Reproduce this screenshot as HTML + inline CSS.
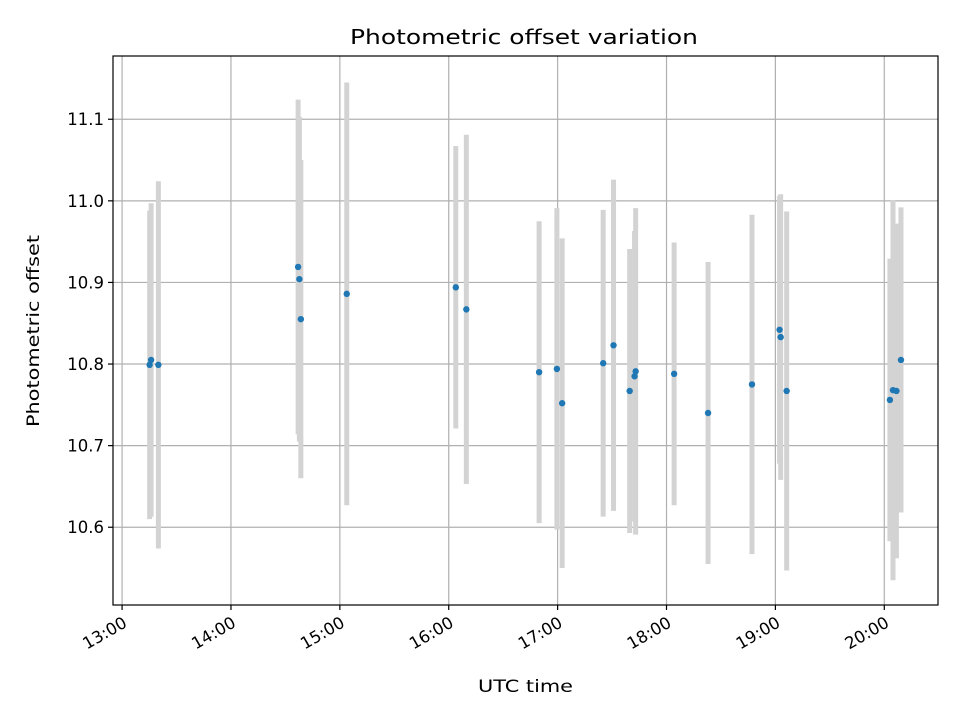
<!DOCTYPE html>
<html><head><meta charset="utf-8"><style>
body{margin:0;background:#fff;}
svg text{font-family:"DejaVu Sans","Liberation Sans",sans-serif;fill:#000;}
</style></head><body>
<svg id="chart" width="960" height="720" viewBox="0 0 960 720" xmlns="http://www.w3.org/2000/svg">
<rect width="960" height="720" fill="#fff"/>
<g id="grid"></g>
<g id="bars"></g>
<g id="pts"></g>
<rect x="113" y="56" width="825" height="549" fill="none" stroke="#000" stroke-width="1.2"/>
<g id="ticks"></g>
<text x="350" y="44" font-size="20" textLength="348" lengthAdjust="spacingAndGlyphs">Photometric offset variation</text>
<text x="478" y="692" font-size="17" textLength="95" lengthAdjust="spacingAndGlyphs">UTC time</text>
<text transform="translate(39,427) rotate(-90)" font-size="17" textLength="192" lengthAdjust="spacingAndGlyphs">Photometric offset</text>
</svg>
<script>
// minutes after 13:00
const times = [15.2,16.0,20.0,97.0,97.7,98.5,123.8,183.9,189.7,229.8,239.6,242.5,265.1,270.8,279.7,282.4,283.0,304.2,322.9,347.1,362.3,362.9,366.2,423.1,424.8,426.7,429.2];
const values = [10.799,10.805,10.799,10.919,10.904,10.855,10.886,10.894,10.867,10.790,10.794,10.752,10.801,10.823,10.767,10.785,10.791,10.788,10.740,10.775,10.842,10.833,10.767,10.756,10.768,10.767,10.805];
const errors = [0.189,0.192,0.225,0.205,0.199,0.195,0.259,0.173,0.214,0.185,0.197,0.202,0.188,0.203,0.174,0.178,0.200,0.161,0.185,0.208,0.164,0.175,0.220,0.173,0.233,0.205,0.187];
const xTicks = [0,60,120,180,240,300,360,420];
const xTickLabels = ["13:00","14:00","15:00","16:00","17:00","18:00","19:00","20:00"];
const yTicks = [10.6,10.7,10.8,10.9,11.0,11.1];
const yTickLabels = ["10.6","10.7","10.8","10.9","11.0","11.1"];

const L=113,R=938,T=56,B=605, xMin=-5, xMax=449.6, yMin=10.5047, yMax=11.1775;
const sx=v=>L+(v-xMin)/(xMax-xMin)*(R-L);
const sy=v=>B-(v-yMin)/(yMax-yMin)*(B-T);
const NS="http://www.w3.org/2000/svg";
function mk(tag,attrs,parent,txt){const e=document.createElementNS(NS,tag);for(const k in attrs)e.setAttribute(k,attrs[k]);if(txt!==undefined)e.textContent=txt;parent.appendChild(e);return e;}
const grid=document.getElementById('grid'),ticks=document.getElementById('ticks'),bars=document.getElementById('bars'),pts=document.getElementById('pts');
xTicks.forEach((t,i)=>{const x=sx(t);
 const g=mk('line',{x1:x,x2:x,y1:T,y2:B,stroke:'#b0b0b0','stroke-width':1.2},grid);
 
 
 mk('line',{x1:x,x2:x,y1:B,y2:B+5,stroke:'#000','stroke-width':1.2},ticks);
 const tx=mk('text',{x:x+2,y:B+22,'text-anchor':'end','font-size':16.5,transform:`rotate(-30 ${x+2} ${B+14})`},ticks,xTickLabels[i]);
 
 
});
yTicks.forEach((t,i)=>{const y=sy(t);
 const g=mk('line',{x1:L,x2:R,y1:y,y2:y,stroke:'#b0b0b0','stroke-width':1.2},grid);
 
 
 mk('line',{x1:L-5,x2:L,y1:y,y2:y,stroke:'#000','stroke-width':1.2},ticks);
 const tx=mk('text',{x:L-9,y:y+6,'text-anchor':'end','font-size':16.5},ticks,yTickLabels[i]);
 
 
});
times.forEach((t,i)=>{const x=sx(t);
 const b=mk('line',{x1:x,x2:x,y1:sy(values[i]+errors[i]),y2:sy(values[i]-errors[i]),stroke:'#d3d3d3','stroke-width':5},bars);
 
 
});
times.forEach((t,i)=>{
 const c=mk('circle',{cx:sx(t),cy:sy(values[i]),r:3.2,fill:'#1f77b4'},pts);
 
 
});
</script>
</body></html>
